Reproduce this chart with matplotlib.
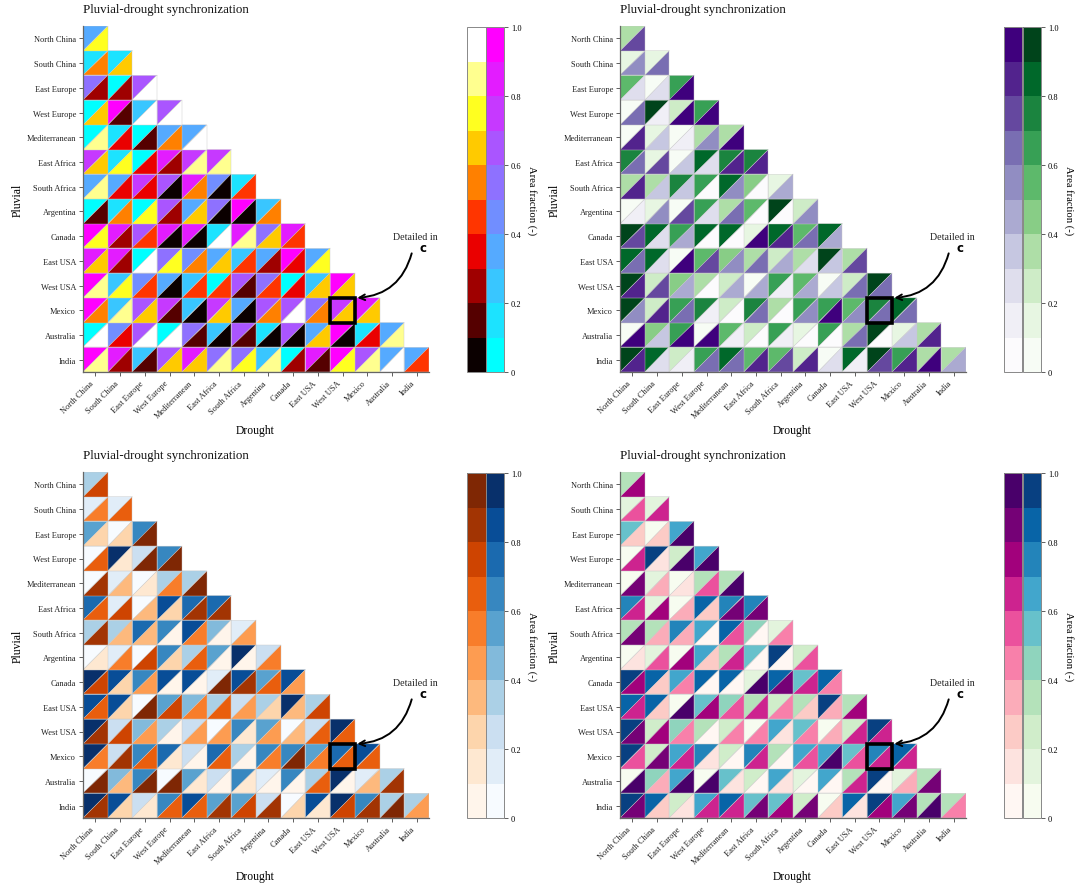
import matplotlib
matplotlib.use('Agg')
import matplotlib.pyplot as plt
import numpy as np
from matplotlib.cm import ScalarMappable
from matplotlib.collections import PolyCollection
from matplotlib.colors import Normalize
from matplotlib.patches import Rectangle

plt.rcParams['font.family'] = ['Liberation Serif', 'DejaVu Serif']

regions = ['North China', 'South China', 'East Europe', 'West Europe', 'Mediterranean',
           'East Africa', 'South Africa', 'Argentina', 'Canada', 'East USA', 'West USA',
           'Mexico', 'Australia', 'India']

# area fraction per cell (bin centres)
upper_frac = [
    [.35],
    [.15, .15],
    [.55, .05, .65],
    [.05, .95, .25, .65],
    [.05, .15, .05, .35, .35],
    [.75, .15, .05, .85, .75, .75],
    [.35, .35, .75, .65, .85, .45, .15],
    [.05, .15, .05, .65, .35, .55, .95, .25],
    [.95, .85, .65, .85, .85, .15, .85, .55, .85],
    [.85, .85, .05, .55, .45, .35, .25, .35, .95, .35],
    [.95, .25, .45, .35, .25, .05, .65, .55, .05, .25, .95],
    [.95, .25, .65, .75, .25, .75, .35, .65, .65, .55, .75, .85],
    [.05, .45, .65, .05, .55, .25, .65, .15, .65, .35, .95, .15, .35],
    [.95, .85, .25, .65, .85, .55, .55, .25, .05, .85, .95, .65, .35, .35],
]
lower_frac = [
    [.75],
    [.55, .65],
    [.25, .25, .95],
    [.65, .15, .95, .95],
    [.85, .35, .15, .55, .95],
    [.65, .75, .35, .25, .85, .85],
    [.85, .35, .35, .05, .55, .05, .45],
    [.15, .55, .75, .25, .65, .05, .05, .55],
    [.75, .25, .45, .05, .05, .95, .85, .65, .45],
    [.65, .25, .95, .75, .55, .65, .45, .25, .35, .75],
    [.85, .75, .45, .05, .45, .45, .15, .45, .35, .65, .65],
    [.55, .85, .65, .15, .05, .65, .05, .55, .95, .55, .65, .65],
    [.95, .35, .95, .95, .15, .05, .15, .05, .05, .65, .05, .35, .85],
    [.85, .25, .15, .65, .65, .85, .75, .85, .25, .15, .75, .85, .95, .45],
]

# left, top of each heatmap in pixels, with its upper and lower colormap
panels = [(83, 27, 'cool', 'hot'),
          (620, 27, 'Greens', 'Purples'),
          (83, 473, 'Blues', 'Oranges'),
          (620, 473, 'GnBu', 'RdPu')]

W, H = 1080, 887
SIZE = 346
CBAR_GAP = 384
CBAR_W = 18.5
ticks = [0, 0.2, 0.4, 0.6, 0.8, 1.0]
tick_labels = ['0', '0.2', '0.4', '0.6', '0.8', '1.0']

fig = plt.figure(figsize=(W / 100, H / 100), dpi=100)
norm = Normalize(0, 1)


def px_axes(x, y, w, h):
    return fig.add_axes([x / W, 1 - (y + h) / H, w / W, h / H])


for left, top, upper_name, lower_name in panels:
    ax = px_axes(left, top, SIZE, SIZE)
    cmap_u = plt.get_cmap(upper_name, 10)
    cmap_l = plt.get_cmap(lower_name, 10)

    tri_u, tri_l, val_u, val_l = [], [], [], []
    for r, (row_u, row_l) in enumerate(zip(upper_frac, lower_frac)):
        for c, (u, l) in enumerate(zip(row_u, row_l)):
            tri_u.append([(c, r), (c + 1, r), (c, r + 1)])
            tri_l.append([(c + 1, r), (c + 1, r + 1), (c, r + 1)])
            val_u.append(u)
            val_l.append(l)

    for tris, vals, cmap in [(tri_u, val_u, cmap_u), (tri_l, val_l, cmap_l)]:
        pc = PolyCollection(tris, array=np.array(vals), cmap=cmap, norm=norm,
                            edgecolors='#c8c8c8', linewidths=0.3)
        ax.add_collection(pc)

    ax.set_xlim(0, 14)
    ax.set_ylim(14, 0)
    ax.spines['top'].set_visible(False)
    ax.spines['right'].set_visible(False)
    for s in ['left', 'bottom']:
        ax.spines[s].set_color('#666666')
        ax.spines[s].set_linewidth(0.9)
    ax.set_xticks(np.arange(14) + 0.5)
    ax.set_yticks(np.arange(14) + 0.5)
    ax.set_xticklabels(regions, rotation=45, ha='right', fontsize=6.0)
    ax.set_yticklabels(regions, fontsize=6.0)
    ax.tick_params(length=3, width=0.6, color='#444444', labelcolor='#222222', pad=2)
    ax.set_xlabel('Drought', fontsize=8.4)
    ax.set_ylabel('Pluvial', fontsize=8.4)
    ax.xaxis.set_label_coords(0.497, -0.151)
    ax.yaxis.set_label_coords(-0.172, 0.5)
    ax.text(0, -0.7, 'Pluvial-drought synchronization', fontsize=9.3, va='center', color='#111111')

    # Mexico / West USA cell
    ax.add_patch(Rectangle((10, 11), 1, 1, fill=False, edgecolor='black', linewidth=2.6,
                           clip_on=False, zorder=5))
    ax.annotate('', xy=(11.1, 11.0), xytext=(13.3, 9.2),
                arrowprops=dict(arrowstyle='->', color='black', lw=1.4,
                                connectionstyle='arc3,rad=-0.35', shrinkA=0, shrinkB=0))
    ax.text(13.44, 8.5, 'Detailed in', fontsize=7.2, ha='center', va='center', color='#222222')
    ax.text(13.76, 8.97, 'c', fontsize=8.5, ha='center', va='center', fontweight='bold',
            family='DejaVu Sans')

    # two colorbars side by side, ticks only on the second
    cax_l = px_axes(left + CBAR_GAP, top + 1, CBAR_W, SIZE - 1)
    cax_r = px_axes(left + CBAR_GAP + CBAR_W, top + 1, CBAR_W, SIZE - 1)
    cb_l = fig.colorbar(ScalarMappable(norm, cmap_l), cax=cax_l, ticks=[])
    cb_r = fig.colorbar(ScalarMappable(norm, cmap_u), cax=cax_r, ticks=ticks)
    cb_r.ax.set_yticklabels(tick_labels, fontsize=6.0)
    cb_r.ax.tick_params(length=3, width=0.6, color='#444444', pad=2)
    cb_r.set_label('Area fraction (-)', rotation=270, fontsize=7.6, labelpad=11)
    for cb in (cb_l, cb_r):
        cb.outline.set_edgecolor('#888888')
        cb.outline.set_linewidth(0.7)

fig.savefig('out.png', dpi=100)
